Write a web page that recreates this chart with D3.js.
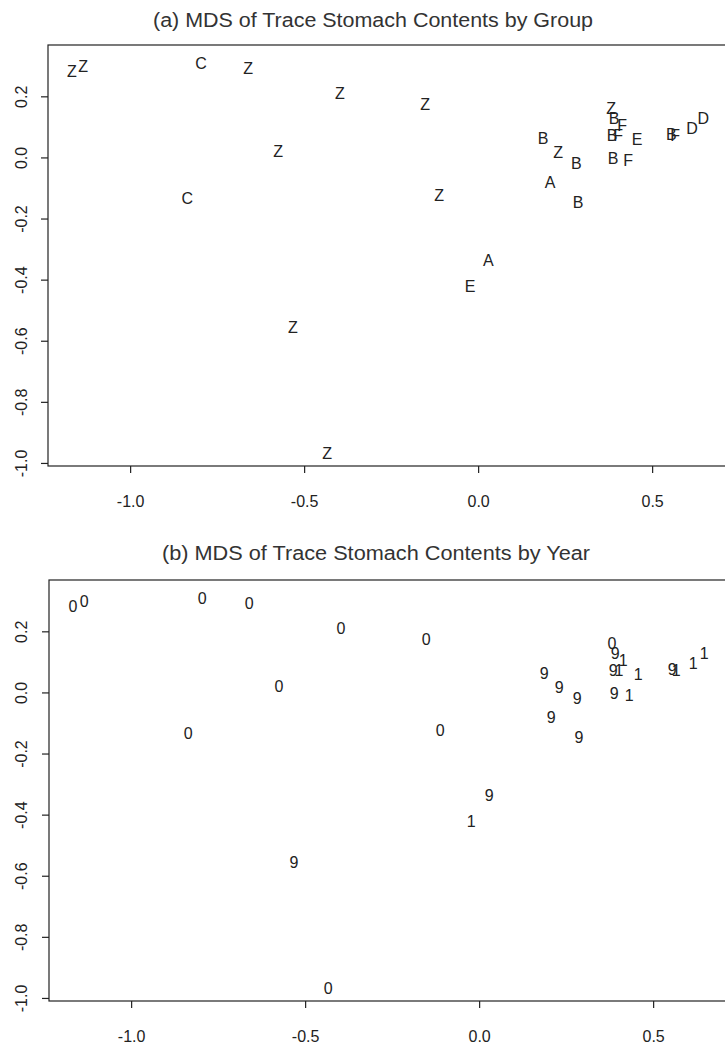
<!DOCTYPE html>
<html>
<head>
<meta charset="utf-8">
<script src="https://cdn.jsdelivr.net/npm/d3@7"></script>
<style>
  html, body { margin: 0; padding: 0; background: #fff; }
  svg { display: block; font-family: "Liberation Sans", Arial, sans-serif; }
</style>
</head>
<body>
<svg id="chart" width="725" height="1044"></svg>
<script>
// ---- data ----
const dim1 = [-1.167, -1.135, -0.796, -0.661, -0.397, -0.575, -0.836, -0.152, -0.112,
               0.187,  0.230,  0.282,  0.207,  0.287,  0.382,  0.391,  0.414,  0.385,
               0.402,  0.457,  0.388,  0.431,  0.555,  0.566,  0.615,  0.647,  0.029,
              -0.023, -0.532, -0.434];
const dim2 = [ 0.281,  0.297,  0.307,  0.291,  0.209,  0.020, -0.134,  0.173, -0.124,
               0.062,  0.016, -0.020, -0.082, -0.147,  0.160,  0.127,  0.105,  0.072,
               0.072,  0.059, -0.003, -0.010,  0.075,  0.072,  0.095,  0.127, -0.337,
              -0.422, -0.556, -0.967];
const groupLabels = ["Z","Z","C","Z","Z","Z","C","Z","Z",
                     "B","Z","B","A","B","Z","B","F","B",
                     "F","E","B","F","B","F","D","D","A",
                     "E","Z","Z"];
const yearLabels  = ["0","0","0","0","0","0","0","0","0",
                     "9","9","9","9","9","0","9","1","9",
                     "1","1","9","1","9","1","1","1","9",
                     "1","9","0"];
const xTicks = [-1.0, -0.5, 0.0, 0.5];
const xTickLabels = ["-1.0", "-0.5", "0.0", "0.5"];
const yTicks = [0.2, 0.0, -0.2, -0.4, -0.6, -0.8, -1.0];
const yTickLabels = ["0.2", "0.0", "-0.2", "-0.4", "-0.6", "-0.8", "-1.0"];
const titles = ["(a) MDS of Trace Stomach Contents by Group",
                "(b) MDS of Trace Stomach Contents by Year"];

// ---- layout ----
const svg = d3.select("#chart");
const ink = "#222";

const panels = [
  { title: titles[0], labels: groupLabels, left: 48, top: 45, bottom: 466, titleY: 27, titleX: 373, titleW: 440 },
  { title: titles[1], labels: yearLabels,  left: 49, top: 580, bottom: 1001, titleY: 560, titleX: 376, titleW: 428 }
];

panels.forEach(p => {
  const x = d3.scaleLinear().domain([-1.236, 0.75]).range([p.left, p.left + 1.986 * 348]);
  const y = d3.scaleLinear().domain([-1.01, 0.368]).range([p.bottom, p.top]);
  const g = svg.append("g");

  // box (right side falls outside the view)
  g.append("rect")
    .attr("x", x.range()[0]).attr("y", p.top)
    .attr("width", x.range()[1] - x.range()[0]).attr("height", p.bottom - p.top)
    .attr("fill", "none").attr("stroke", ink).attr("stroke-width", 1.2);

  // x axis
  const xa = g.append("g").attr("transform", `translate(0,${p.bottom})`)
    .call(d3.axisBottom(x).tickValues(xTicks).tickSize(7)
      .tickFormat((d, i) => xTickLabels[i]));
  xa.select(".domain").remove();
  xa.selectAll("line").attr("stroke", ink).attr("stroke-width", 1.2);
  xa.selectAll("text").attr("y", 41).attr("dy", 0)
    .attr("fill", ink).style("font-size", "16px")
    .style("font-family", '"Liberation Sans", Arial, sans-serif');

  // y axis
  const ya = g.append("g").attr("transform", `translate(${p.left},0)`)
    .call(d3.axisLeft(y).tickValues(yTicks).tickSize(7)
      .tickFormat((d, i) => yTickLabels[i]));
  ya.select(".domain").remove();
  ya.selectAll("line").attr("stroke", ink).attr("stroke-width", 1.2);
  ya.selectAll("text")
    .attr("transform", "rotate(-90)")
    .attr("x", 0).attr("y", -(p.left - 27)).attr("dy", 0)
    .attr("text-anchor", "middle")
    .attr("fill", ink).style("font-size", "16px")
    .style("font-family", '"Liberation Sans", Arial, sans-serif');

  // title
  g.append("text")
    .attr("x", p.titleX).attr("y", p.titleY)
    .attr("text-anchor", "middle")
    .attr("textLength", p.titleW).attr("lengthAdjust", "spacingAndGlyphs")
    .attr("fill", "#333").style("font-size", "19.5px")
    .text(p.title);

  // point labels
  g.append("g").selectAll("text")
    .data(dim1.map((d, i) => ({ x: d, y: dim2[i], t: p.labels[i] })))
    .join("text")
    .attr("x", d => x(d.x))
    .attr("y", d => y(d.y))
    .attr("dy", "0.36em")
    .attr("text-anchor", "middle")
    .attr("fill", ink).style("font-size", "16px")
    .text(d => d.t);
});
</script>
</body>
</html>
